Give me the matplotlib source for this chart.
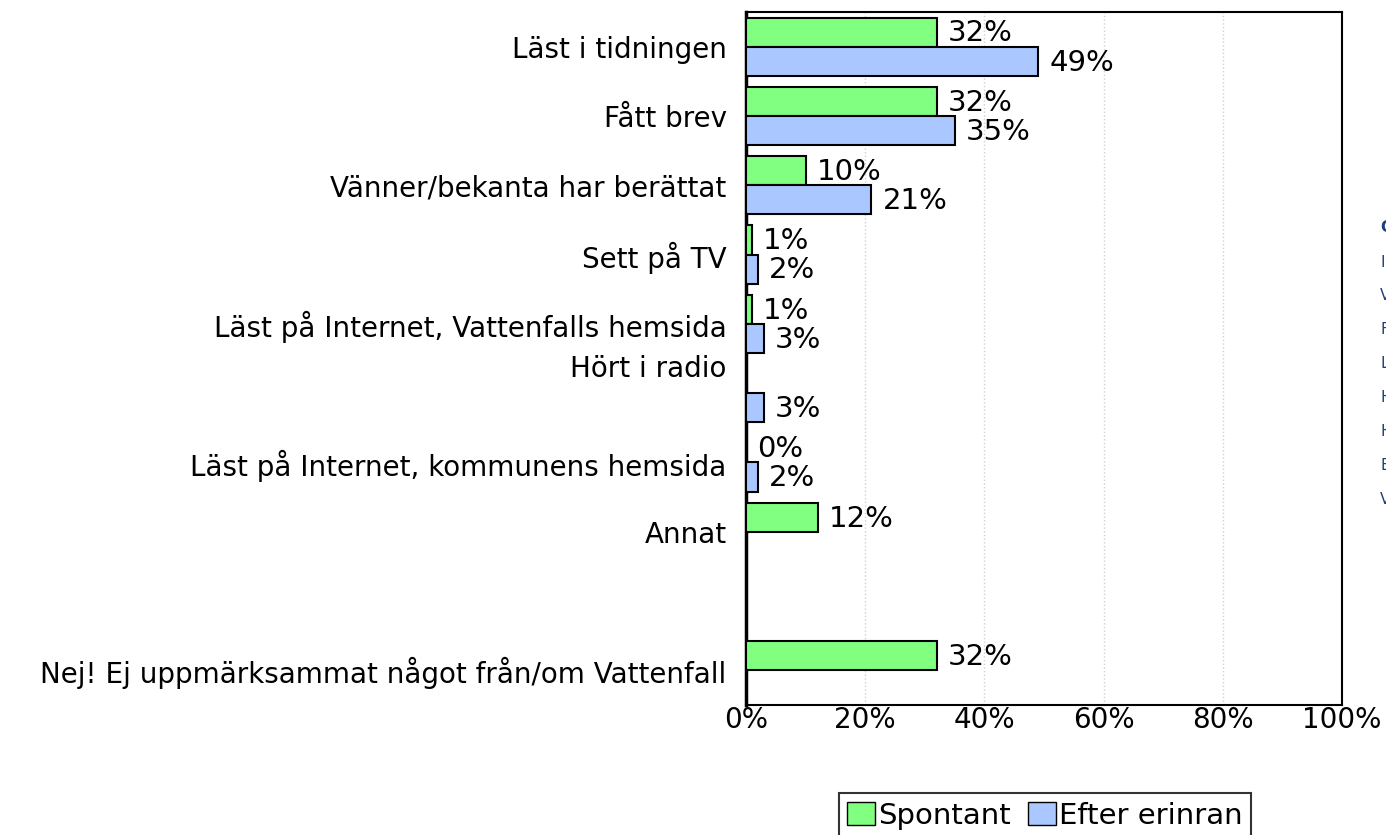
import matplotlib.pyplot as plt
import matplotlib.transforms as mtransforms
from matplotlib.patches import Patch
import numpy as np

plt.rcParams['font.family'] = ['DejaVu Sans']

# data
categories = ["Läst i tidningen", "Fått brev", "Vänner/bekanta har berättat",
              "Sett på TV", "Läst på Internet, Vattenfalls hemsida", "Hört i radio",
              "Läst på Internet, kommunens hemsida", "Annat", "",
              "Nej! Ej uppmärksammat något från/om Vattenfall"]
spontant = [32, 32, 10, 1, 1, None, 0, 12, None, 32]
efter = [49, 35, 21, 2, 3, 3, 2, None, None, None]
series_names = ["Spontant", "Efter erinran"]
xticks = [0, 20, 40, 60, 80, 100]

# side panel, clipped at the right edge
side_letters = ["C", "I", "V", "F", "L", "H", "H", "E", "V"]

green = "#80ff80"
blue = "#aac8ff"
fs = 20

fig = plt.figure(figsize=(13.86, 8.35), dpi=100)
ax = fig.add_axes([746/1386, 1 - 705/835, (1342-746)/1386, (705-12)/835])

y = np.arange(len(categories))
h = 0.42

for i, (s, e) in enumerate(zip(spontant, efter)):
    if s is not None:
        ax.barh(i - h/2, s, height=h, color=green, edgecolor="black", linewidth=1.5, zorder=3)
        ax.text(s + 1.9, i - h/2 + 0.02, f"{s}%", va="center", ha="left", fontsize=21, zorder=4)
    if e is not None:
        ax.barh(i + h/2, e, height=h, color=blue, edgecolor="black", linewidth=1.5, zorder=3)
        ax.text(e + 1.9, i + h/2 + 0.02, f"{e}%", va="center", ha="left", fontsize=21, zorder=4)

ax.set_xlim(0, 100)
ax.set_ylim(len(categories) - 0.5, -0.5)
ax.set_yticks(y)
ax.set_yticklabels(categories, fontsize=fs)
ax.set_xticks(xticks)
ax.set_xticklabels([f"{t}%" for t in xticks], fontsize=fs)
ax.tick_params(length=0, pad=14)
ax.tick_params(axis="x", pad=1)
ax.grid(axis="x", color="#d0d0d0", linestyle=":", linewidth=1, zorder=0)
for sp in ax.spines.values():
    sp.set_linewidth(1.5)
ax.spines["left"].set_linewidth(2.5)

# "Hört i radio" sits a bit higher in the original
lbl = ax.get_yticklabels()[5]
lbl.set_transform(lbl.get_transform() + mtransforms.ScaledTranslation(0, 0.27, fig.dpi_scale_trans))

# legend
handles = [Patch(facecolor=green, edgecolor="black"), Patch(facecolor=blue, edgecolor="black")]
leg = fig.legend(handles, series_names, loc="lower center", bbox_to_anchor=(1045/1386, -0.004),
                 ncol=2, fontsize=21, frameon=True, fancybox=False, edgecolor="black",
                 handlelength=0.95, handleheight=0.8, handletextpad=0.1, columnspacing=0.6,
                 borderpad=0.3, borderaxespad=0)
leg.get_frame().set_linewidth(1.5)

for k, letter in enumerate(side_letters):
    fig.text(1380/1386, 1 - (228 + k*34)/835, letter, fontsize=11, color="#1f3d7a",
             fontweight="bold" if k == 0 else "normal", va="center", ha="left")

fig.savefig("out.png", dpi=100)
